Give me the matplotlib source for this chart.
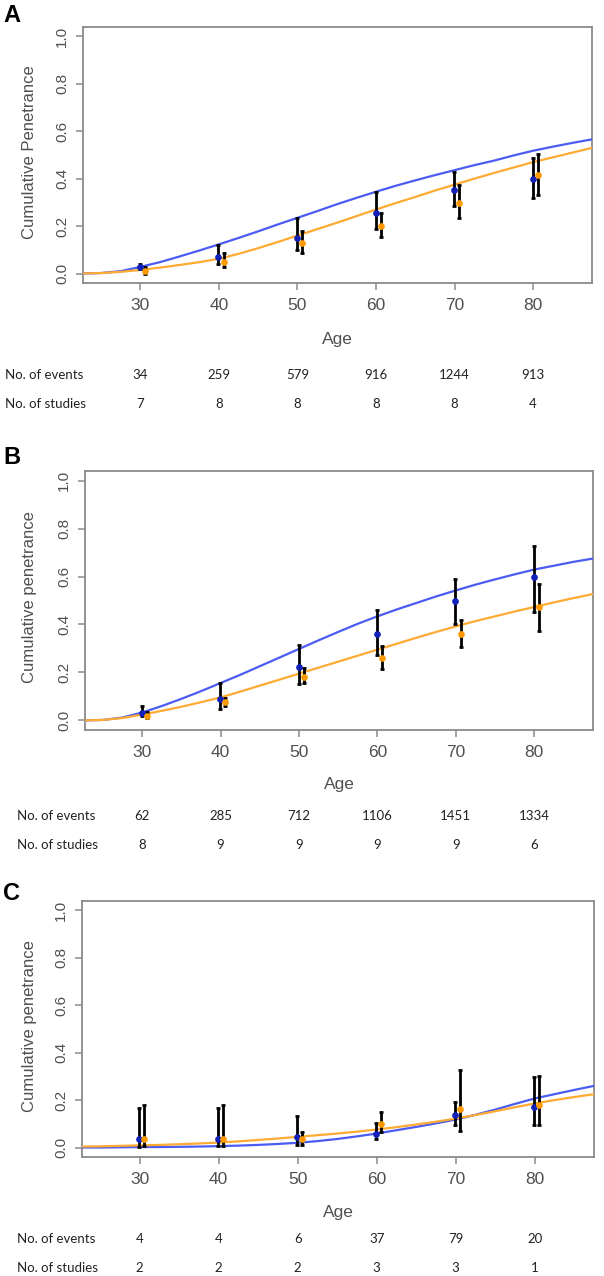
import matplotlib
matplotlib.use("Agg")
import matplotlib.pyplot as plt
import matplotlib.transforms as mtransforms

# ---------------- data ----------------
ages = [30, 40, 50, 60, 70, 80]
curve_ages = [22.5, 25, 27.5, 30, 32.5, 35, 37.5, 40, 42.5, 45, 47.5, 50, 52.5, 55,
              57.5, 60, 62.5, 65, 67.5, 70, 72.5, 75, 77.5, 80, 82.5, 85, 87.5]

# Panel A
a_blue_curve = [0.0, 0.002, 0.01, 0.028, 0.048, 0.072, 0.097, 0.123, 0.15, 0.178, 0.207, 0.235,
                0.263, 0.292, 0.319, 0.345, 0.37, 0.393, 0.415, 0.436, 0.457, 0.476, 0.498,
                0.518, 0.535, 0.551, 0.566]
a_orange_curve = [0.0, 0.002, 0.007, 0.015, 0.025, 0.036, 0.048, 0.062, 0.083, 0.107, 0.133, 0.16,
                  0.187, 0.214, 0.242, 0.27, 0.297, 0.323, 0.35, 0.375, 0.4, 0.424, 0.447,
                  0.47, 0.49, 0.51, 0.53]
a_blue_pt = [0.028, 0.07, 0.15, 0.255, 0.354, 0.399]
a_blue_lo = [0.018, 0.04, 0.098, 0.186, 0.284, 0.319]
a_blue_hi = [0.04, 0.12, 0.233, 0.343, 0.427, 0.487]
a_orange_pt = [0.01, 0.05, 0.128, 0.2, 0.298, 0.417]
a_orange_lo = [0.0, 0.028, 0.088, 0.154, 0.234, 0.331]
a_orange_hi = [0.028, 0.087, 0.178, 0.255, 0.373, 0.506]
a_events = ["34", "259", "579", "916", "1244", "913"]
a_studies = ["7", "8", "8", "8", "8", "4"]

# Panel B
b_blue_curve = [0.0, 0.002, 0.012, 0.033, 0.06, 0.09, 0.122, 0.156, 0.19, 0.226, 0.262, 0.298,
                0.334, 0.369, 0.403, 0.434, 0.463, 0.49, 0.517, 0.542, 0.566, 0.588, 0.609,
                0.629, 0.645, 0.661, 0.675]
b_orange_curve = [0.0, 0.002, 0.01, 0.024, 0.04, 0.057, 0.076, 0.096, 0.12, 0.145, 0.17, 0.195,
                  0.22, 0.245, 0.27, 0.295, 0.32, 0.345, 0.369, 0.392, 0.414, 0.434, 0.454,
                  0.473, 0.492, 0.51, 0.527]
b_blue_pt = [0.031, 0.089, 0.224, 0.36, 0.497, 0.598]
b_blue_lo = [0.017, 0.049, 0.151, 0.273, 0.40, 0.452]
b_blue_hi = [0.061, 0.155, 0.314, 0.459, 0.59, 0.726]
b_orange_pt = [0.017, 0.075, 0.183, 0.259, 0.362, 0.473]
b_orange_lo = [0.01, 0.061, 0.158, 0.213, 0.306, 0.374]
b_orange_hi = [0.035, 0.093, 0.22, 0.31, 0.42, 0.57]
b_events = ["62", "285", "712", "1106", "1451", "1334"]
b_studies = ["8", "9", "9", "9", "9", "6"]

# Panel C
c_blue_curve = [0.0, 0.0, 0.001, 0.002, 0.002, 0.003, 0.004, 0.006, 0.008, 0.011, 0.015, 0.02,
                0.027, 0.036, 0.047, 0.059, 0.073, 0.087, 0.102, 0.118, 0.138, 0.16, 0.184,
                0.207, 0.225, 0.243, 0.26]
c_orange_curve = [0.004, 0.005, 0.007, 0.009, 0.011, 0.014, 0.017, 0.021, 0.026, 0.032, 0.038,
                  0.045, 0.052, 0.059, 0.067, 0.076, 0.086, 0.097, 0.109, 0.122, 0.137, 0.153,
                  0.17, 0.186, 0.2, 0.213, 0.225]
c_blue_pt = [0.034, 0.034, 0.045, 0.059, 0.137, 0.172]
c_blue_lo = [0.002, 0.005, 0.01, 0.034, 0.094, 0.094]
c_blue_hi = [0.165, 0.165, 0.132, 0.104, 0.19, 0.296]
c_orange_pt = [0.035, 0.038, 0.034, 0.101, 0.161, 0.179]
c_orange_lo = [0.006, 0.006, 0.01, 0.066, 0.07, 0.094]
c_orange_hi = [0.179, 0.179, 0.066, 0.151, 0.327, 0.301]
c_events = ["4", "4", "6", "37", "79", "20"]
c_studies = ["2", "2", "2", "3", "3", "1"]

# ---------------- styling ----------------
W, H = 604, 1276
BLUE_LINE = "#4A5CF2"
ORANGE_LINE = "#FFAA33"
BLUE_PT = "#1020B8"
ORANGE_PT = "#FF9A00"
GRAY = "#8A8A8A"
TXT = "#505050"
AX_FONT = "Liberation Sans"
TAB_FONT = "Lato"

fig = plt.figure(figsize=(W / 100, H / 100), dpi=100)

panels = [
    dict(letter="A", box=(83, 27, 592, 283), ylab="Cumulative Penetrance",
         letter_y=16, age_y=340, ev_y=375, st_y=404, lab_x=5,
         bc=a_blue_curve, oc=a_orange_curve,
         bp=a_blue_pt, bl=a_blue_lo, bh=a_blue_hi,
         op=a_orange_pt, ol=a_orange_lo, oh=a_orange_hi,
         ev=a_events, st=a_studies),
    dict(letter="B", box=(85, 471, 593, 730), ylab="Cumulative penetrance",
         letter_y=457, age_y=785, ev_y=816, st_y=845, lab_x=17,
         bc=b_blue_curve, oc=b_orange_curve,
         bp=b_blue_pt, bl=b_blue_lo, bh=b_blue_hi,
         op=b_orange_pt, ol=b_orange_lo, oh=b_orange_hi,
         ev=b_events, st=b_studies),
    dict(letter="C", box=(82, 901, 594, 1157), ylab="Cumulative penetrance",
         letter_y=893, age_y=1212, ev_y=1239, st_y=1268, lab_x=17,
         bc=c_blue_curve, oc=c_orange_curve,
         bp=c_blue_pt, bl=c_blue_lo, bh=c_blue_hi,
         op=c_orange_pt, ol=c_orange_lo, oh=c_orange_hi,
         ev=c_events, st=c_studies),
]

def fy(py):
    return 1 - py / H

for p in panels:
    l, t, r, b = p["box"]
    ax = fig.add_axes([l / W, 1 - b / H, (r - l) / W, (b - t) / H])
    ax.set_xlim(22.7, 87.5)
    ax.set_ylim(-0.04, 1.04)

    ax.plot(curve_ages, p["bc"], color=BLUE_LINE, lw=1.6, zorder=3)
    ax.plot(curve_ages, p["oc"], color=ORANGE_LINE, lw=1.6, zorder=3)

    bx = [a - 0.05 for a in ages]
    ox = [a + 0.6 for a in ages]
    ax.vlines(bx, p["bl"], p["bh"], color="black", lw=2.0, zorder=4)
    ax.vlines(ox, p["ol"], p["oh"], color="black", lw=2.0, zorder=4)
    for xs, lo, hi in ((bx, p["bl"], p["bh"]), (ox, p["ol"], p["oh"])):
        ax.plot(xs, lo, ls="none", marker="_", ms=3.5, mew=2.0, color="black", zorder=5)
        ax.plot(xs, hi, ls="none", marker="_", ms=3.5, mew=2.0, color="black", zorder=5)
    ax.plot(bx, p["bp"], ls="none", marker="o", ms=3.8, color=BLUE_PT, zorder=6)
    ax.plot(ox, p["op"], ls="none", marker="o", ms=3.8, color=ORANGE_PT, zorder=6)

    for s in ax.spines.values():
        s.set_color(GRAY)
        s.set_linewidth(1.3)
    ax.set_xticks(ages)
    ax.set_xticklabels([str(a) for a in ages], fontsize=12.5, family=AX_FONT, color=TXT)
    yt = [0.0, 0.2, 0.4, 0.6, 0.8, 1.0]
    ax.set_yticks(yt)
    ax.set_yticklabels([f"{v:.1f}" for v in yt], fontsize=11, family=AX_FONT,
                       color=TXT, rotation=90, va="center")
    ax.tick_params(axis="both", direction="out", length=5, width=1.1, color=GRAY)
    ax.tick_params(axis="x", pad=6)
    ax.tick_params(axis="y", pad=5)

    # axis labels
    fig.text(30 / W, fy((t + b) / 2 - 3), p["ylab"], rotation=90, ha="center", va="center",
             fontsize=12, family=AX_FONT, color=TXT)
    tr = mtransforms.blended_transform_factory(ax.transData, fig.transFigure)
    ax.text(55.1, fy(p["age_y"]), "Age", transform=tr, ha="center", va="center",
            fontsize=12.5, family=AX_FONT, color=TXT)

    # panel letter
    fig.text(3 / W, fy(p["letter_y"]), p["letter"], ha="left", va="center",
             fontsize=17, fontweight="bold", family="Liberation Sans", color="black")

    # table rows
    fig.text(p["lab_x"] / W, fy(p["ev_y"]), "No. of events", ha="left", va="center",
             fontsize=9.5, family=TAB_FONT, color="#222222")
    fig.text(p["lab_x"] / W, fy(p["st_y"]), "No. of studies", ha="left", va="center",
             fontsize=9.5, family=TAB_FONT, color="#222222")
    for a, e, s in zip(ages, p["ev"], p["st"]):
        ax.text(a, fy(p["ev_y"]), e, transform=tr, ha="center", va="center",
                fontsize=9.5, family=TAB_FONT, color="#222222")
        ax.text(a, fy(p["st_y"]), s, transform=tr, ha="center", va="center",
                fontsize=9.5, family=TAB_FONT, color="#222222")

fig.savefig("out.png", dpi=100, facecolor="white")
